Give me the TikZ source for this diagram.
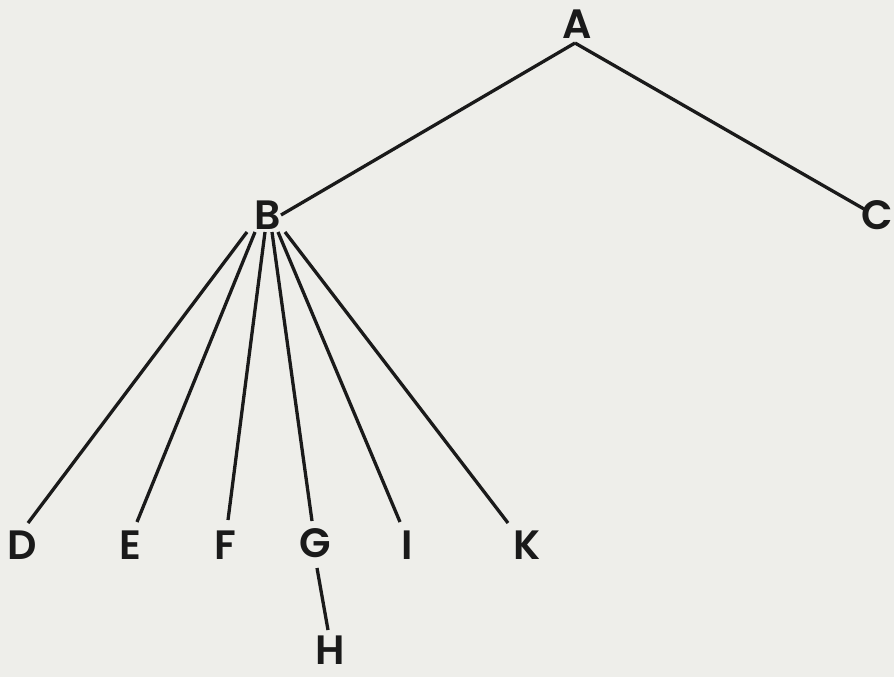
\documentclass[tikz,border=0pt]{standalone}
\usepackage{fontspec}
\setmainfont{Poppins}[BoldFont=* SemiBold]
\definecolor{paper}{RGB}{238,238,234}
\definecolor{ink}{RGB}{26,26,26}
\begin{document}
\begin{tikzpicture}[x=1pt,y=-1pt,
  letter/.style={font=\fontsize{41}{41}\selectfont\bfseries, inner sep=0pt, text=ink},
  branch/.style={draw=ink, line width=3.3pt}]
% page background
\fill[paper] (0,0) rectangle (894,677);
\useasboundingbox (0,0) rectangle (894,677);
% letters
\node[letter] (A) at (577,24) {A};
\node[letter] (B) at (268,215) {B};
\node[letter] (C) at (877,215) {C};
\node[letter] (D) at (22,545) {D};
\node[letter] (E) at (130,545) {E};
\node[letter] (F) at (225,545) {F};
\node[letter] (G) at (315,543) {G};
\node[letter] (H) at (330,650) {H};
\node[letter] (I) at (407,545) {I};
\node[letter] (K) at (527,545) {K};
% branches from A
\draw[branch] ([shift={(-2,19)}]A.center) -- ([shift={(13,0)}]B.center);
\draw[branch] ([shift={(-2,19)}]A.center) -- ([shift={(-13,-6)}]C.center);
% fan below B
\draw[branch] ([shift={(-21,17)}]B.center) -- ([shift={(6,-22)}]D.center);
\draw[branch] ([shift={(-13,17)}]B.center) -- ([shift={(7,-23)}]E.center);
\draw[branch] ([shift={(-3,17)}]B.center) -- ([shift={(3,-25)}]F.center);
\draw[branch] ([shift={(4,17)}]B.center) -- ([shift={(-3,-22)}]G.center);
\draw[branch] ([shift={(10,17)}]B.center) -- ([shift={(-7,-23)}]I.center);
\draw[branch] ([shift={(17,17)}]B.center) -- ([shift={(-19,-22)}]K.center);
% G down to H
\draw[branch] ([shift={(2,25)}]G.center) -- ([shift={(-2,-20)}]H.center);
\end{tikzpicture}
\end{document}
